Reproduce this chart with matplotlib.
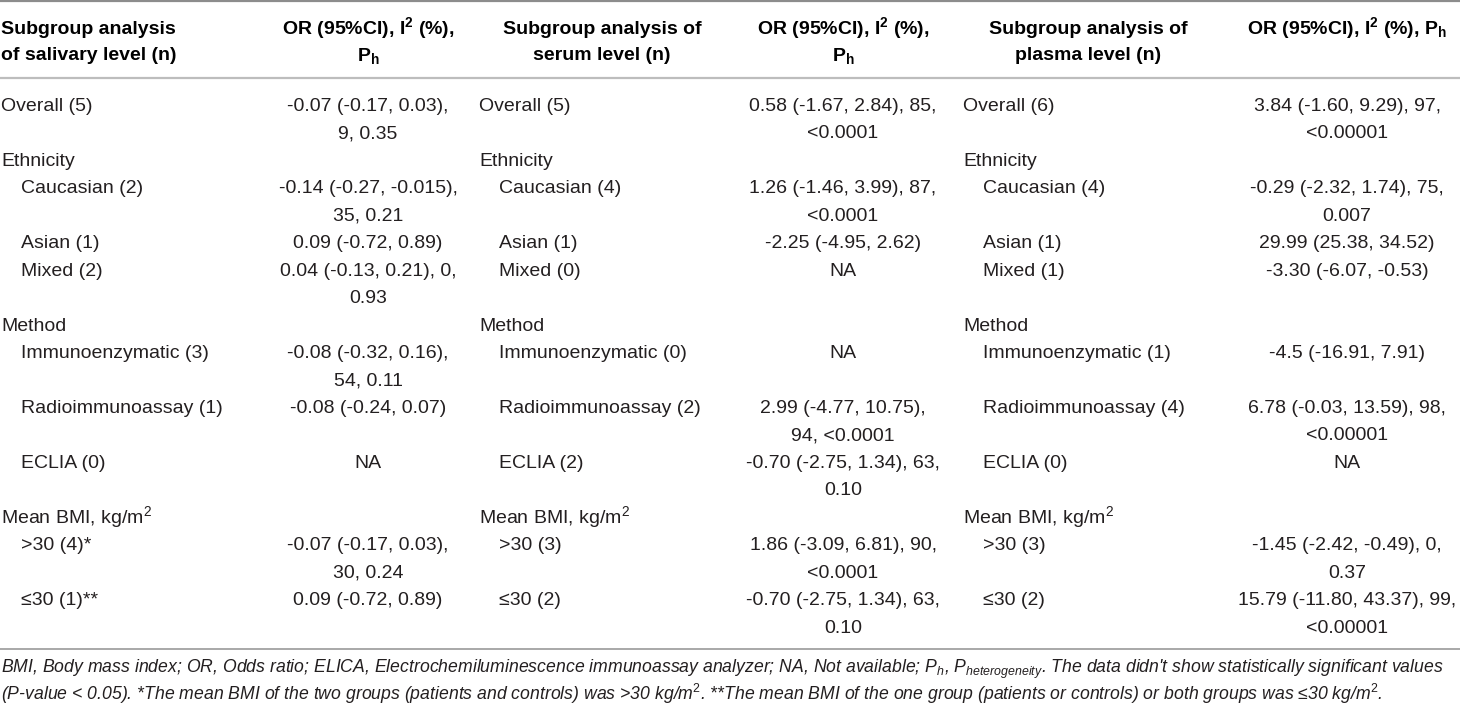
import matplotlib
matplotlib.use("Agg")
import matplotlib.pyplot as plt

plt.rcParams['font.family'] = ['Liberation Sans', 'DejaVu Sans']
plt.rcParams['mathtext.fontset'] = 'custom'
plt.rcParams['mathtext.rm'] = 'Liberation Sans'
plt.rcParams['mathtext.it'] = 'Liberation Sans:italic'
plt.rcParams['mathtext.bf'] = 'Liberation Sans:bold'

# ---- table content ----
row_labels = ["Overall", "Ethnicity", "Caucasian", "Asian", "Mixed", "Method",
              "Immunoenzymatic", "Radioimmunoassay", "ECLIA", r"Mean BMI, kg/m$^\mathrm{2}$",
              ">30", "≤30"]
row_indent = [0, 0, 1, 1, 1, 0, 1, 1, 1, 0, 1, 1]

salivary_n = ["(5)", "", "(2)", "(1)", "(2)", "", "(3)", "(1)", "(0)", "", "(4)*", "(1)**"]
serum_n = ["(5)", "", "(4)", "(1)", "(0)", "", "(0)", "(2)", "(2)", "", "(3)", "(2)"]
plasma_n = ["(6)", "", "(4)", "(1)", "(1)", "", "(1)", "(4)", "(0)", "", "(3)", "(2)"]

salivary_vals = ["-0.07 (-0.17, 0.03),\n9, 0.35", "",
                 "-0.14 (-0.27, -0.015),\n35, 0.21", "0.09 (-0.72, 0.89)",
                 "0.04 (-0.13, 0.21), 0,\n0.93", "",
                 "-0.08 (-0.32, 0.16),\n54, 0.11", "-0.08 (-0.24, 0.07)", "NA", "",
                 "-0.07 (-0.17, 0.03),\n30, 0.24", "0.09 (-0.72, 0.89)"]
serum_vals = ["0.58 (-1.67, 2.84), 85,\n<0.0001", "",
              "1.26 (-1.46, 3.99), 87,\n<0.0001", "-2.25 (-4.95, 2.62)", "NA", "",
              "NA", "2.99 (-4.77, 10.75),\n94, <0.0001",
              "-0.70 (-2.75, 1.34), 63,\n0.10", "",
              "1.86 (-3.09, 6.81), 90,\n<0.0001", "-0.70 (-2.75, 1.34), 63,\n0.10"]
plasma_vals = ["3.84 (-1.60, 9.29), 97,\n<0.00001", "",
               "-0.29 (-2.32, 1.74), 75,\n0.007", "29.99 (25.38, 34.52)",
               "-3.30 (-6.07, -0.53)", "",
               "-4.5 (-16.91, 7.91)", "6.78 (-0.03, 13.59), 98,\n<0.00001", "NA", "",
               "-1.45 (-2.42, -0.49), 0,\n0.37", "15.79 (-11.80, 43.37), 99,\n<0.00001"]

headers = [["Subgroup analysis", "of salivary level (n)"],
           [r"OR (95%CI), I$^\mathbf{2}$ (%),", r"P$_\mathbf{h}$"],
           ["Subgroup analysis of", "serum level (n)"],
           [r"OR (95%CI), I$^\mathbf{2}$ (%),", r"P$_\mathbf{h}$"],
           ["Subgroup analysis of", "plasma level (n)"],
           [r"OR (95%CI), I$^\mathbf{2}$ (%), P$_\mathbf{h}$"]]

footnotes = [r"BMI, Body mass index; OR, Odds ratio; ELICA, Electrochemiluminescence immunoassay analyzer; "
             r"NA, Not available; P$_h$, P$_{heterogeneity}$. The data didn't show statistically significant values",
             r"(P-value < 0.05). *The mean BMI of the two groups (patients and controls) was >30 kg/m$^2$. "
             r"**The mean BMI of the one group (patients or controls) or both groups was ≤30 kg/m$^2$."]

# ---- layout (pixel coordinates) ----
W, H = 1460, 706
fig = plt.figure(figsize=(W / 100, H / 100), dpi=100)
ax = fig.add_axes([0, 0, 1, 1])
ax.set_xlim(0, W)
ax.set_ylim(H, 0)
ax.axis('off')

fs = 14
txt = '#231f20'
pitch = 27.45
y0 = 104
base = 7  # baseline offset from line centre

label_x = [1, 479, 963]
value_cx = [368, 843, 1347]
header_x = [(1, 'left'), (368, 'center'), (602, 'center'),
            (843, 'center'), (1088, 'center'), (1347, 'center')]

# rules
ax.plot([0, W], [1, 1], color='#8c8c8c', lw=1.6, solid_capstyle='butt')
ax.plot([0, W], [78, 78], color='#bdbdbd', lw=1.6, solid_capstyle='butt')
ax.plot([0, W], [649, 649], color='#9a9a9a', lw=1.2, solid_capstyle='butt')

# header
for (hx, ha), lines in zip(header_x, headers):
    for j, line in enumerate(lines):
        ax.text(hx, 27 + j * 26.5 + base, line, ha=ha, va='baseline',
                fontsize=fs, fontweight='bold', color='black')

# body
sections = [(salivary_n, salivary_vals), (serum_n, serum_vals), (plasma_n, plasma_vals)]
k = 0
for i, lab in enumerate(row_labels):
    nlines = max(1, max(v[1][i].count('\n') + 1 for v in sections))
    y = y0 + k * pitch
    for c, (ns, vals) in enumerate(sections):
        text = lab + (" " + ns[i] if ns[i] else "")
        ax.text(label_x[c] + 20 * row_indent[i], y + base, text, ha='left',
                va='baseline', fontsize=fs, color=txt)
        for j, vline in enumerate(vals[i].split('\n')):
            if vline:
                ax.text(value_cx[c], y + j * pitch + base, vline, ha='center',
                        va='baseline', fontsize=fs, color=txt)
    k += nlines

# footnote, first line fitted to the table width
notes = [ax.text(1, 668 + j * 27 + 5, line, ha='left', va='baseline',
                 fontsize=13, style='italic', color=txt)
         for j, line in enumerate(footnotes)]
fig.canvas.draw()
w1 = notes[0].get_window_extent().width
for t in notes:
    t.set_fontsize(13 * 1440 / w1)

fig.savefig('out.png', dpi=100)
